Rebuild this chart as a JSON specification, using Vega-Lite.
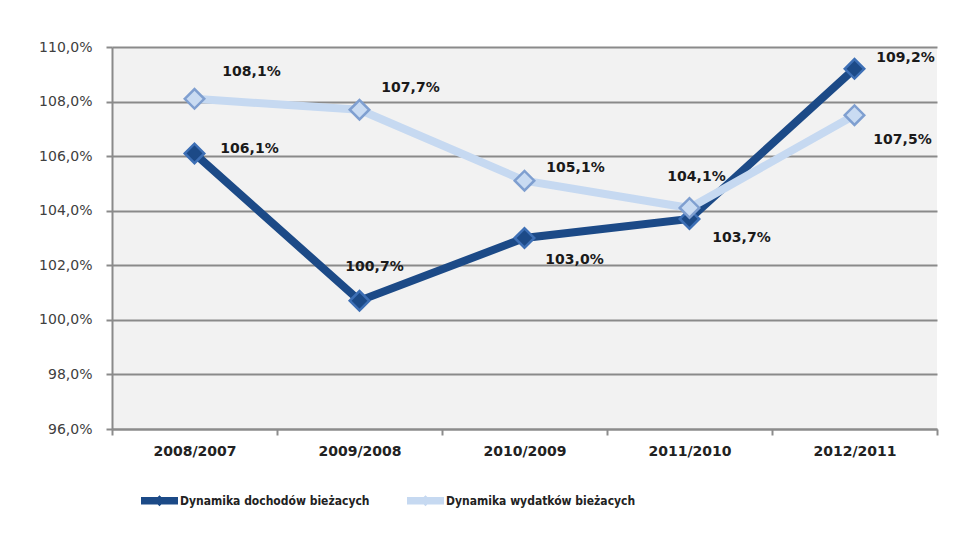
{
  "$schema": "https://vega.github.io/schema/vega-lite/v6.json",
  "width": 825,
  "height": 382,
  "autosize": {"type": "none"},
  "padding": {"left": 112, "top": 47, "right": 28, "bottom": 107},
  "background": "white",
  "config": {
    "view": {"fill": "#f2f2f2", "stroke": null},
    "font": "DejaVu Sans",
    "text": {"font": "DejaVu Sans", "fontSize": 14, "fontWeight": "bold", "color": "#1a1a1a", "align": "center", "baseline": "middle"}
  },
  "data": {
    "values": [
      {"okres": "2008/2007", "seria": "Dynamika dochodów bieżacych", "wartosc": 106.1},
      {"okres": "2009/2008", "seria": "Dynamika dochodów bieżacych", "wartosc": 100.7},
      {"okres": "2010/2009", "seria": "Dynamika dochodów bieżacych", "wartosc": 103.0},
      {"okres": "2011/2010", "seria": "Dynamika dochodów bieżacych", "wartosc": 103.7},
      {"okres": "2012/2011", "seria": "Dynamika dochodów bieżacych", "wartosc": 109.2},
      {"okres": "2008/2007", "seria": "Dynamika wydatków bieżacych", "wartosc": 108.1},
      {"okres": "2009/2008", "seria": "Dynamika wydatków bieżacych", "wartosc": 107.7},
      {"okres": "2010/2009", "seria": "Dynamika wydatków bieżacych", "wartosc": 105.1},
      {"okres": "2011/2010", "seria": "Dynamika wydatków bieżacych", "wartosc": 104.1},
      {"okres": "2012/2011", "seria": "Dynamika wydatków bieżacych", "wartosc": 107.5}
    ]
  },
  "transform": [
    {"calculate": "replace(format(datum.wartosc, '.1f'), '.', ',') + '%'", "as": "etykieta"},
    {"calculate": "(datum.seria == 'Dynamika dochodów bieżacych' ? 'D' : 'W') + datum.okres", "as": "klucz"}
  ],
  "encoding": {
    "x": {
      "field": "okres", "type": "nominal", "sort": null,
      "scale": {"paddingInner": 0, "paddingOuter": 0},
      "axis": {
        "title": null, "labelAngle": 0, "grid": false,
        "domainColor": "#8c8c8c", "domainWidth": 2,
        "tickBand": "extent", "tickColor": "#8c8c8c", "tickWidth": 2, "tickSize": 6,
        "labelFont": "DejaVu Sans", "labelFontSize": 14, "labelFontWeight": "bold",
        "labelColor": "#222222", "labelPadding": 9
      }
    },
    "y": {
      "field": "wartosc", "type": "quantitative",
      "scale": {"domain": [96, 110], "nice": false, "zero": false},
      "axis": {
        "title": null, "values": [96, 98, 100, 102, 104, 106, 108, 110],
        "grid": true, "gridColor": "#8a8a8a", "gridWidth": 2,
        "domainColor": "#8a8a8a", "domainWidth": 2,
        "tickColor": "#8a8a8a", "tickWidth": 2, "tickSize": 6,
        "labelFont": "DejaVu Sans", "labelFontSize": 14, "labelColor": "#404040",
        "labelPadding": 14,
        "labelExpr": "replace(format(datum.value, '.1f'), '.', ',') + '%'"
      }
    }
  },
  "layer": [
    {
      "mark": {"type": "line", "strokeWidth": 8},
      "encoding": {
        "color": {
          "field": "seria", "type": "nominal",
          "scale": {"range": ["#1c4a87", "#c6d9f1"]},
          "legend": {
            "title": null, "orient": "none", "direction": "horizontal",
            "legendX": 29, "legendY": 435,
            "symbolType": "M-1,-0.2H1V0.2H-1Z M0,-0.3L0.3,0L0,0.3L-0.3,0Z",
            "symbolSize": 1369, "symbolStrokeWidth": 0,
            "labelFont": "DejaVu Sans Condensed, DejaVu Sans", "labelFontSize": 12, "labelFontWeight": "bold", "labelColor": "#222222",
            "labelOffset": 2, "columnPadding": 37, "labelLimit": 0,
            "encode": {"symbols": {"update": {"fill": {"scale": "color", "field": "value"}, "strokeWidth": {"value": 0}}}}
          }
        }
      }
    },
    {
      "mark": {"type": "point", "shape": "diamond", "filled": true, "size": 380, "strokeWidth": 2.5, "opacity": 1},
      "encoding": {
        "fill": {"field": "seria", "type": "nominal", "scale": {"range": ["#1c4a87", "#c9dbf2"]}, "legend": null},
        "stroke": {"field": "seria", "type": "nominal", "scale": {"range": ["#3d6fb5", "#7f9fd0"]}, "legend": null}
      }
    },
    {"transform": [{"filter": "datum.klucz == 'D2008/2007'"}], "mark": {"type": "text", "dx": 55, "dy": -4}, "encoding": {"text": {"field": "etykieta"}}},
    {"transform": [{"filter": "datum.klucz == 'D2009/2008'"}], "mark": {"type": "text", "dx": 15, "dy": -34}, "encoding": {"text": {"field": "etykieta"}}},
    {"transform": [{"filter": "datum.klucz == 'D2010/2009'"}], "mark": {"type": "text", "dx": 50, "dy": 22}, "encoding": {"text": {"field": "etykieta"}}},
    {"transform": [{"filter": "datum.klucz == 'D2011/2010'"}], "mark": {"type": "text", "dx": 52, "dy": 19}, "encoding": {"text": {"field": "etykieta"}}},
    {"transform": [{"filter": "datum.klucz == 'D2012/2011'"}], "mark": {"type": "text", "dx": 51, "dy": -11}, "encoding": {"text": {"field": "etykieta"}}},
    {"transform": [{"filter": "datum.klucz == 'W2008/2007'"}], "mark": {"type": "text", "dx": 57, "dy": -27}, "encoding": {"text": {"field": "etykieta"}}},
    {"transform": [{"filter": "datum.klucz == 'W2009/2008'"}], "mark": {"type": "text", "dx": 51, "dy": -22}, "encoding": {"text": {"field": "etykieta"}}},
    {"transform": [{"filter": "datum.klucz == 'W2010/2009'"}], "mark": {"type": "text", "dx": 51, "dy": -13}, "encoding": {"text": {"field": "etykieta"}}},
    {"transform": [{"filter": "datum.klucz == 'W2011/2010'"}], "mark": {"type": "text", "dx": 7, "dy": -31}, "encoding": {"text": {"field": "etykieta"}}},
    {"transform": [{"filter": "datum.klucz == 'W2012/2011'"}], "mark": {"type": "text", "dx": 48, "dy": 25}, "encoding": {"text": {"field": "etykieta"}}}
  ]
}
